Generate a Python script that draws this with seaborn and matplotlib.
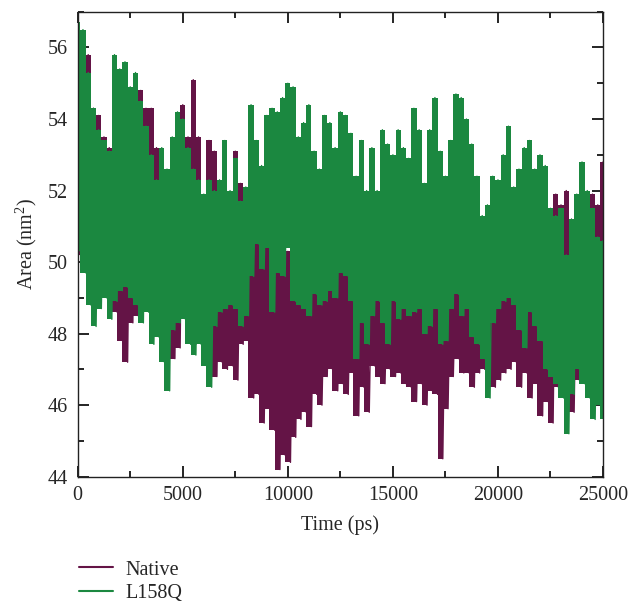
import numpy as np
import pandas as pd
import matplotlib
matplotlib.use("Agg")
import matplotlib.pyplot as plt
import seaborn as sns
from matplotlib.ticker import MultipleLocator

# values, one pair of (peak, trough) every 250 ps
step_ps = 250

l158q_hi = [56.7, 56.5, 55.3, 54.3, 53.7, 53.4, 53.1, 55.8, 55.4, 55.6,
            54.9, 55.3, 54.5, 53.8, 53.0, 52.3, 53.2, 52.6, 53.5, 54.2,
            54.0, 53.2, 52.6, 52.3, 51.9, 52.3, 52.0, 52.3, 53.4, 52.0,
            52.9, 51.7, 52.1, 54.4, 53.4, 52.7, 54.1, 54.3, 54.2, 54.6,
            55.0, 54.9, 53.5, 53.9, 54.4, 53.1, 52.6, 54.1, 53.9, 53.2,
            54.2, 54.1, 53.6, 52.4, 53.4, 52.0, 53.2, 52.0, 53.7, 53.3,
            53.0, 53.7, 53.2, 52.9, 54.3, 53.7, 52.2, 53.7, 54.6, 53.1,
            52.4, 53.4, 54.7, 54.6, 54.0, 53.3, 52.4, 51.3, 51.6, 52.4,
            52.3, 53.0, 53.8, 52.1, 52.6, 53.2, 53.4, 52.6, 53.0, 52.7,
            51.5, 51.3, 51.5, 50.2, 51.2, 51.9, 52.8, 52.0, 51.5, 50.7,
            50.6]

l158q_lo = [50.3, 49.7, 48.8, 48.2, 48.7, 49.0, 48.4, 48.9, 49.2, 49.3,
            49.0, 48.8, 48.3, 48.6, 47.7, 47.9, 47.2, 46.4, 48.1, 48.3,
            48.4, 47.7, 47.4, 47.7, 47.1, 46.5, 48.2, 48.6, 48.7, 48.8,
            48.7, 48.2, 48.5, 49.6, 50.5, 49.8, 50.4, 48.6, 49.7, 49.6,
            50.4, 48.9, 48.8, 48.7, 48.5, 49.1, 48.8, 48.9, 49.2, 49.0,
            49.7, 49.6, 48.9, 47.3, 48.3, 47.7, 48.5, 48.9, 48.3, 47.7,
            48.9, 48.4, 48.7, 48.5, 48.6, 48.7, 48.0, 48.2, 48.7, 47.7,
            47.8, 48.7, 49.1, 48.5, 48.7, 47.9, 47.7, 47.3, 46.2, 48.3,
            48.7, 48.9, 49.0, 48.8, 48.1, 47.6, 48.6, 48.2, 47.8, 47.0,
            46.8, 46.6, 46.2, 45.2, 46.3, 47.0, 46.6, 46.2, 45.6, 46.0,
            45.6]

native_hi = [55.9, 56.4, 55.8, 54.3, 54.1, 53.5, 53.2, 52.8, 52.0, 52.5,
             53.5, 55.1, 54.8, 54.3, 54.3, 53.2, 52.4, 52.0, 52.0, 52.8,
             54.4, 53.5, 55.1, 53.5, 51.7, 53.4, 53.1, 51.5, 51.4, 51.8,
             53.1, 52.2, 51.5, 51.0, 50.8, 50.5, 50.6, 50.2, 50.0, 50.5,
             50.3, 49.9, 50.2, 50.0, 49.8, 50.4, 50.1, 49.8, 50.0, 50.2,
             49.8, 50.0, 50.2, 49.6, 50.4, 49.8, 50.2, 49.9, 50.3, 49.7,
             50.0, 49.8, 50.3, 49.9, 50.1, 49.6, 50.0, 49.8, 50.1, 49.5,
             49.9, 50.2, 49.8, 50.0, 49.6, 49.9, 50.3, 50.8, 51.5, 50.2,
             49.8, 50.1, 49.7, 50.0, 49.6, 50.2, 49.9, 50.0, 50.6, 51.2,
             51.5, 51.9, 51.6, 52.0, 51.2, 50.8, 51.0, 50.7, 51.9, 51.6,
             52.8]

native_lo = [50.2, 50.4, 50.0, 49.6, 49.4, 49.8, 49.2, 48.6, 47.8, 47.2,
             48.3, 48.5, 49.0, 49.2, 48.8, 48.5, 48.3, 47.8, 47.3, 47.6,
             48.5, 48.0, 47.7, 47.9, 48.2, 47.3, 46.8, 47.2, 47.0, 47.1,
             46.7, 47.7, 47.8, 46.2, 46.3, 45.5, 45.9, 45.3, 44.2, 44.6,
             44.4, 45.1, 45.6, 45.8, 45.4, 46.3, 46.0, 46.8, 47.0, 46.4,
             46.6, 46.3, 46.9, 45.7, 46.5, 45.8, 47.1, 46.8, 46.6, 47.0,
             46.8, 46.9, 46.6, 46.5, 46.1, 46.6, 46.0, 46.4, 46.3, 44.5,
             45.9, 46.8, 47.3, 46.9, 46.9, 46.5, 46.9, 47.0, 47.2, 46.5,
             46.7, 46.9, 47.0, 47.2, 46.5, 46.9, 46.2, 46.6, 45.7, 46.1,
             45.5, 46.5, 46.8, 46.6, 45.8, 46.7, 46.9, 46.4, 46.9, 47.3,
             47.2]

native_color = "#641446"
l158q_color = "#1b8840"


def trace(hi, lo):
    # peaks on the grid, troughs half a step later
    t_hi = np.arange(len(hi)) * step_ps
    t = np.empty(2 * len(hi))
    v = np.empty(2 * len(hi))
    t[0::2] = t_hi
    t[1::2] = t_hi + step_ps / 2
    v[0::2] = hi
    v[1::2] = lo
    return pd.DataFrame({"Time": t, "Area": v})


df_nat = trace(native_hi, native_lo)
df_mut = trace(l158q_hi, l158q_lo)
t_grid = np.arange(len(native_hi)) * step_ps

sns.set_style("ticks")
plt.rcParams["font.family"] = ["Liberation Serif", "DejaVu Serif"]
plt.rcParams["mathtext.fontset"] = "custom"
plt.rcParams["mathtext.rm"] = "Liberation Serif"

fig = plt.figure(figsize=(6.39, 6.07), dpi=100)
ax = fig.add_axes([0.1216, 0.2147, 0.8221, 0.766])

# the trajectories are so dense they read as bands; green sits over purple
ax.fill_between(t_grid, native_lo, native_hi, step="mid", color=native_color,
                lw=0, zorder=1.0)
sns.lineplot(data=df_nat, x="Time", y="Area", color=native_color, lw=1.0,
             estimator=None, sort=False, label="Native", ax=ax, zorder=1.1)
ax.fill_between(t_grid, l158q_lo, l158q_hi, step="mid", color=l158q_color,
                lw=0, zorder=1.2)
sns.lineplot(data=df_mut, x="Time", y="Area", color=l158q_color, lw=1.0,
             estimator=None, sort=False, label="L158Q", ax=ax, zorder=1.3)

ax.set_xlim(0, 25000)
ax.set_ylim(44, 57)
ax.xaxis.set_major_locator(MultipleLocator(5000))
ax.xaxis.set_minor_locator(MultipleLocator(2500))
ax.yaxis.set_major_locator(MultipleLocator(2))
ax.yaxis.set_minor_locator(MultipleLocator(1))
ax.tick_params(which="both", direction="in", top=True, right=True,
               width=1.2, labelsize=14.5, color="black")
ax.tick_params(which="major", length=8, pad=7)
ax.tick_params(which="minor", length=4.5)
for s in ax.spines.values():
    s.set_linewidth(1.0)
    s.set_color("#222222")
    s.set_zorder(5)

ax.set_xlabel("Time (ps)", fontsize=14.5, labelpad=7)
ax.set_ylabel("Area (nm$^2$)", fontsize=14.5, labelpad=6)

h, l = ax.get_legend_handles_labels()
ax.get_legend().remove()
leg = fig.legend(h, l, loc="upper left", bbox_to_anchor=(0.111, 0.09),
                 frameon=False, fontsize=14.5, handlelength=1.7,
                 handletextpad=0.6, labelspacing=0.22, borderaxespad=0)
for ln in leg.get_lines():
    ln.set_linewidth(1.5)

fig.savefig("out.png", dpi=100)
